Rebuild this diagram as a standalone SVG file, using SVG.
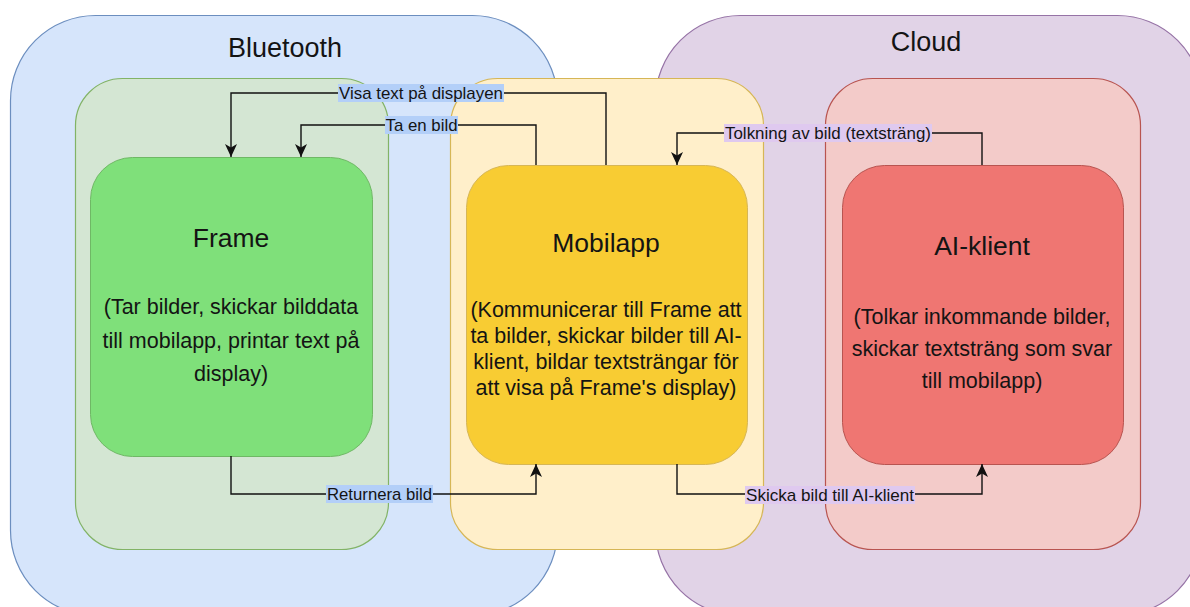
<svg xmlns="http://www.w3.org/2000/svg" width="1190" height="607" viewBox="0 0 1190 607">
<defs>
<style>
text{font-family:"Liberation Sans",Arial,sans-serif;fill:#141414;text-anchor:middle}
.zone{font-size:27px}
.title{font-size:26.5px}
.desc{font-size:21.5px}
.lbl{font-size:17px}
.edge{fill:none;stroke:#111;stroke-width:1.4}
</style>
<marker id="arr" markerUnits="userSpaceOnUse" markerWidth="14" markerHeight="14" viewBox="0 0 14 14" refX="13" refY="7" orient="auto">
<path d="M0,1 L13,7 L0,13 L3.5,7 Z" fill="#111"/>
</marker>
</defs>
<rect width="1190" height="607" fill="#fff"/>
<g id="bluetooth">
<rect x="10.5" y="15.5" width="547" height="600" rx="85" ry="85" fill="#d6e5fb" stroke="#6c8ebf" stroke-width="1.2"/>
<text class="zone" x="285" y="57">Bluetooth</text>
</g>
<g id="cloud">
<rect x="655.5" y="15.5" width="547" height="600" rx="85" ry="85" fill="#e1d3e7" stroke="#9673a6" stroke-width="1.2"/>
<text class="zone" x="926" y="51">Cloud</text>
</g>
<g id="frame-group">
<rect x="75.5" y="78.5" width="313" height="471" rx="47" ry="47" fill="#d4e6d3" stroke="#82b366" stroke-width="1.2"/>
</g>
<g id="ai-group">
<rect x="825.5" y="78.5" width="315" height="471" rx="47" ry="47" fill="#f3cbc9" stroke="#b85450" stroke-width="1.2"/>
</g>
<g id="mobilapp-group">
<rect x="450.5" y="78.5" width="313" height="471" rx="47" ry="47" fill="#ffefca" stroke="#d6b656" stroke-width="1.2"/>
</g>
<g id="frame">
<rect x="90.5" y="157.5" width="282" height="299" rx="42" ry="42" fill="#7fe07a" stroke="#6fb865" stroke-width="1"/>
<text class="title" x="231" y="247">Frame</text>
<text class="desc" x="231" y="314">(Tar bilder, skickar bilddata</text>
<text class="desc" x="231" y="347.5">till mobilapp, printar text på</text>
<text class="desc" x="231" y="381">display)</text>
</g>
<g id="mobilapp">
<rect x="466.5" y="165.5" width="281" height="299" rx="42" ry="42" fill="#f8cc33" stroke="#d6b656" stroke-width="1"/>
<text class="title" x="606" y="252">Mobilapp</text>
<text class="desc" x="606" y="317">(Kommunicerar till Frame att</text>
<text class="desc" x="606" y="343">ta bilder, skickar bilder till AI-</text>
<text class="desc" x="606" y="369">klient, bildar textsträngar för</text>
<text class="desc" x="606" y="395">att visa på Frame's display)</text>
</g>
<g id="ai-klient">
<rect x="842.5" y="165.5" width="281" height="299" rx="42" ry="42" fill="#ef7672" stroke="#b85450" stroke-width="1"/>
<text class="title" x="982" y="255">AI-klient</text>
<text class="desc" x="982" y="324">(Tolkar inkommande bilder,</text>
<text class="desc" x="982" y="356">skickar textsträng som svar</text>
<text class="desc" x="982" y="388">till mobilapp)</text>
</g>
<g id="connectors">
<path class="edge" d="M606,165 V93 H231 V157" marker-end="url(#arr)"/>
<path class="edge" d="M536,165 V125 H301 V157" marker-end="url(#arr)"/>
<path class="edge" d="M982,165 V133 H677 V165" marker-end="url(#arr)"/>
<path class="edge" d="M231,456 V494 H536 V464" marker-end="url(#arr)"/>
<path class="edge" d="M677,464 V494 H982 V464" marker-end="url(#arr)"/>
<rect x="338" y="84" width="166" height="18" fill="#b3cff8"/>
<text class="lbl" x="421" y="99" textLength="164" lengthAdjust="spacingAndGlyphs">Visa text på displayen</text>
<rect x="385" y="116" width="73" height="18" fill="#b3cff8"/>
<text class="lbl" x="421.5" y="131" textLength="72" lengthAdjust="spacingAndGlyphs">Ta en bild</text>
<rect x="724" y="124" width="208" height="18" fill="#dfc9ef"/>
<text class="lbl" x="828" y="139" textLength="206" lengthAdjust="spacingAndGlyphs">Tolkning av bild (textsträng)</text>
<rect x="326" y="485" width="107" height="18" fill="#b3cff8"/>
<text class="lbl" x="379.5" y="500" textLength="105" lengthAdjust="spacingAndGlyphs">Returnera bild</text>
<rect x="745" y="486" width="170" height="18" fill="#dfc9ef"/>
<text class="lbl" x="830" y="501" textLength="168" lengthAdjust="spacingAndGlyphs">Skicka bild till AI-klient</text>
</g>
</svg>
